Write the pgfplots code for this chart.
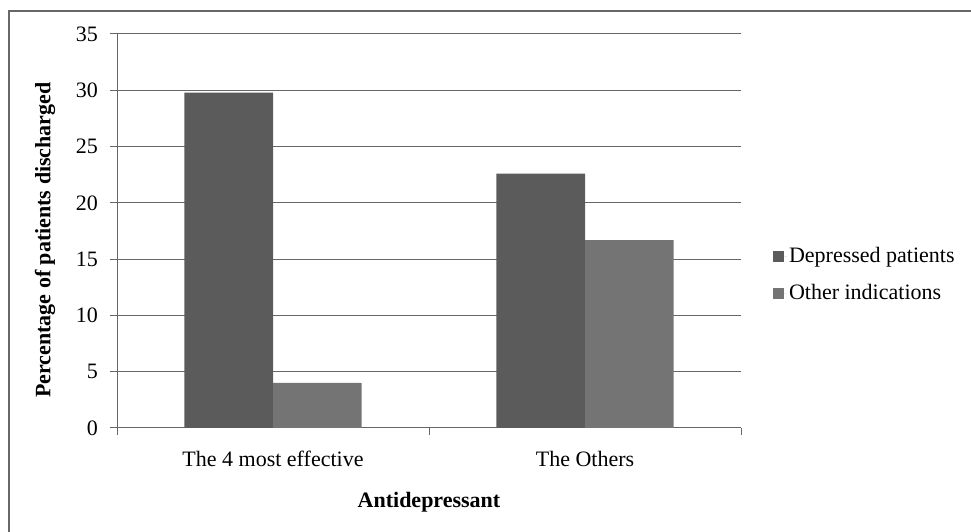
\documentclass[border=0pt]{standalone}
\usepackage{fontspec}
\setmainfont{Liberation Serif}
\usepackage{pgfplots}
\pgfplotsset{compat=1.18}

\definecolor{darkbar}{HTML}{5B5B5B}
\definecolor{lightbar}{HTML}{747474}
\definecolor{gridgray}{HTML}{666666}
\definecolor{framegray}{HTML}{686868}

\begin{document}
\fontsize{22}{26}\selectfont
\begin{tikzpicture}[x=1pt,y=1pt]
% page = 971 x 532 (1pt = 1px)
\path[use as bounding box] (0,0) rectangle (971,532);
\draw[framegray, line width=2.2pt] (9,-5) -- (9,521) -- (980,521);

\begin{axis}[
    at={(117pt,104pt)}, anchor=south west,
    scale only axis,
    width=624pt, height=394pt,
    ybar=0pt, bar width=0.2837,
    xmin=-0.5, xmax=1.5,
    ymin=0, ymax=35,
    ytick={0,5,...,35},
    xtick={-0.5,0.5,1.5},
    xticklabels={},
    extra x ticks={0,1},
    extra x tick labels={The 4 most effective, The Others},
    extra x tick style={major tick length=0pt,
        xticklabel style={anchor=base, yshift=-38pt}},
    axis x line*=bottom, axis y line*=left,
    axis line style={gridgray, line width=1pt},
    tick align=outside, major tick length=7pt,
    tick style={gridgray, line width=1pt},
    ymajorgrids, major grid style={gridgray, line width=1pt},
    yticklabel style={anchor=east, inner sep=0pt, xshift=-12pt},
    /pgf/number format/assume math mode=true,
    xlabel={\bfseries Antidepressant},
    xlabel style={at={(axis description cs:0.5,-0.203)}, anchor=base},
    ylabel={\bfseries Percentage of patients discharged},
    ylabel style={at={(axis description cs:-0.1154,0.477)}, anchor=center},
    legend style={draw=none, fill=none, at={(axis description cs:1.051,0.388)},
        anchor=west, row sep=14pt, cells={anchor=west}, inner sep=0pt},
    legend image code/.code={\fill[#1] (0pt,-5.5pt) rectangle (11pt,5.5pt);
        \path (0pt,0pt) -- (14pt,0pt);},
]
\addplot[fill=darkbar, draw=none] coordinates {(0,29.8) (1,22.6)};
\addplot[fill=lightbar, draw=none] coordinates {(0,4.0) (1,16.7)};
\legend{Depressed patients, Other indications}
\end{axis}
\end{tikzpicture}
\end{document}
